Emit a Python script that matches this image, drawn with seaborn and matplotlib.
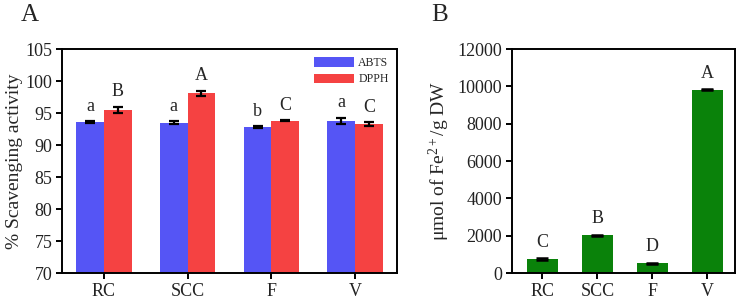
import numpy as np
import pandas as pd
import seaborn as sns
import matplotlib.pyplot as plt

# datos
samples = ["RC", "SCC", "F", "V"]
abts = [93.6, 93.5, 92.8, 93.8]
abts_err = [0.1, 0.2, 0.1, 0.5]
dpph = [95.5, 98.1, 93.8, 93.3]
dpph_err = [0.5, 0.4, 0.05, 0.3]
abts_letters = ["a", "a", "b", "a"]
dpph_letters = ["B", "A", "C", "C"]

frap = [750, 2020, 530, 9830]
frap_err = [40, 30, 30, 30]
frap_letters = ["C", "B", "D", "A"]

sns.set_theme(style="ticks")
plt.rcParams['font.family'] = ['Liberation Serif', 'DejaVu Serif']
plt.rcParams['mathtext.fontset'] = 'custom'
plt.rcParams['mathtext.rm'] = 'Liberation Serif'
plt.rcParams['mathtext.it'] = 'Liberation Serif'
plt.rcParams['mathtext.default'] = 'regular'

blue = "#5555F5"
red = "#F54242"
green = "#0A820A"

df = pd.DataFrame({
    "sample": samples * 2,
    "assay": ["ABTS"] * 4 + ["DPPH"] * 4,
    "value": abts + dpph,
    "err": abts_err + dpph_err,
    "letter": abts_letters + dpph_letters,
})

fig = plt.figure(figsize=(7.4, 3.03), dpi=100)
ax1 = fig.add_axes([0.0838, 0.099, 0.4527, 0.739])
ax2 = fig.add_axes([0.692, 0.099, 0.301, 0.739])

# Panel A
sns.barplot(data=df, x="sample", y="value", hue="assay", palette=[blue, red],
            width=0.66, errorbar=None, saturation=1, linewidth=0, ax=ax1)
ax1.set_ylim(70, 105)
ax1.set_xlim(-0.5, 3.5)
ax1.set_yticks(range(70, 106, 5))
ax1.set_ylabel("% Scavenging activity", fontsize=14, labelpad=2)
ax1.set_xlabel("")

bars = [p for p in ax1.patches if p.get_height() > 0][:8]
for p, (_, row) in zip(bars, df.iterrows()):
    xc = p.get_x() + p.get_width() / 2
    ax1.errorbar(xc, row["value"], yerr=row["err"], color="black",
                 capsize=3.5, elinewidth=1.6, capthick=1.6)
    ax1.text(xc, row["value"] + row["err"] + 1.0, row["letter"],
             ha="center", va="bottom", fontsize=13)

leg = ax1.legend(loc="upper right", frameon=False, fontsize=8.5,
                 handlelength=3.4, handleheight=0.9, borderaxespad=0.3,
                 labelspacing=0.35, handletextpad=0.4)

# Panel B
dfb = pd.DataFrame({"sample": samples, "value": frap})
sns.barplot(data=dfb, x="sample", y="value", color=green, width=0.57,
            errorbar=None, saturation=1, linewidth=0, ax=ax2)
ax2.set_ylim(0, 12000)
ax2.set_xlim(-0.55, 3.5)
ax2.set_yticks(range(0, 12001, 2000))
ax2.set_ylabel("μmol of Fe$^{2+}$/g DW", fontsize=14, labelpad=4)
ax2.set_xlabel("")
for i, p in enumerate(ax2.patches[:4]):
    xc = p.get_x() + p.get_width() / 2
    ax2.errorbar(xc, frap[i], yerr=frap_err[i], color="black",
                 capsize=4.5, elinewidth=1.6, capthick=1.8)
    ax2.text(xc, frap[i] + frap_err[i] + 400, frap_letters[i],
             ha="center", va="bottom", fontsize=13)

for ax in (ax1, ax2):
    for s in ax.spines.values():
        s.set_linewidth(1.4)
        s.set_color("black")
    ax.tick_params(axis="both", labelsize=13, width=1.4, length=4.5, pad=2.5,
                   color="black", labelcolor="#222222")

fig.text(0.028, 0.95, "A", fontsize=18, va="center", ha="left")
fig.text(0.583, 0.95, "B", fontsize=18, va="center", ha="left")

fig.savefig("out.png", dpi=100)
